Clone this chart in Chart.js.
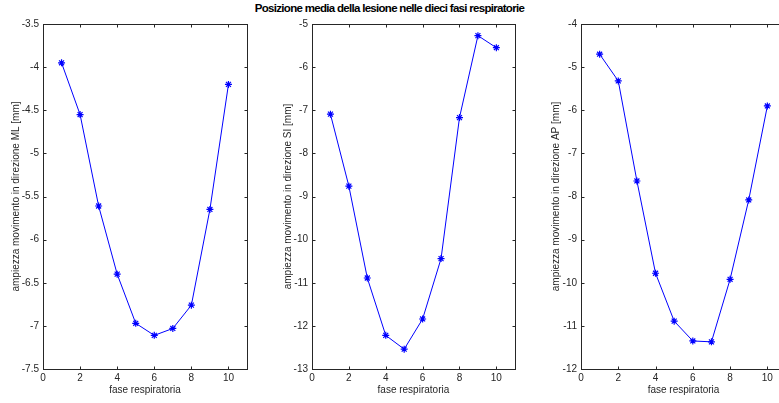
<!DOCTYPE html>
<html>
<head>
<meta charset="utf-8">
<script src="https://cdn.jsdelivr.net/npm/chart.js@4.4.1/dist/chart.umd.min.js"></script>
<style>
  html, body { margin: 0; padding: 0; background: #fff; }
  body { width: 779px; height: 403px; overflow: hidden; position: relative; font-family: "Liberation Sans", Arial, sans-serif; }
  .panel { position: absolute; top: 0; height: 403px; }
  #mainTitle {
    position: absolute; top: 2px; left: 0; width: 779px; text-align: center;
    font-weight: bold; font-size: 11.5px; letter-spacing: -0.7px; color: #000;
  }
</style>
</head>
<body>
<div id="mainTitle">Posizione media della lesione nelle dieci fasi respiratorie</div>
<div class="panel" style="left:0;width:260px"><canvas id="chartML"></canvas></div>
<div class="panel" style="left:260px;width:260px"><canvas id="chartSI"></canvas></div>
<div class="panel" style="left:520px;width:280px"><canvas id="chartAP"></canvas></div>
<script>
// fasi respiratorie 1..10
const phases = [1, 2, 3, 4, 5, 6, 7, 8, 9, 10];

// posizione media [mm] per direzione
const posML = [-3.95, -4.55, -5.61, -6.40, -6.97, -7.11, -7.03, -6.76, -5.65, -4.20];
const posSI = [-7.09, -8.76, -10.89, -12.22, -12.54, -11.84, -10.44, -7.17, -5.27, -5.55];
const posAP = [-4.70, -5.32, -7.64, -9.78, -10.89, -11.35, -11.37, -9.92, -8.08, -5.90];

const xTicks = [0, 2, 4, 6, 8, 10];

const axisColor = "#262626";
const textColor = "#262626";

// frame + inward ticks on all four sides (matlab style)
const boxTicks = {
  id: "boxTicks",
  afterDraw(chart) {
    const { ctx, chartArea: a, scales } = chart;
    const L = Math.round(a.left) + 0.5, R = Math.round(a.right) + 0.5;
    const T = Math.round(a.top) + 0.5, B = Math.round(a.bottom) + 0.5;
    const len = 3;
    ctx.save();
    ctx.strokeStyle = axisColor;
    ctx.lineWidth = 1;
    ctx.beginPath();
    scales.x.ticks.forEach(t => {
      const px = Math.round(scales.x.getPixelForValue(t.value)) + 0.5;
      ctx.moveTo(px, B); ctx.lineTo(px, B - len);
      ctx.moveTo(px, T); ctx.lineTo(px, T + len);
    });
    scales.y.ticks.forEach(t => {
      const py = Math.round(scales.y.getPixelForValue(t.value)) + 0.5;
      ctx.moveTo(L, py); ctx.lineTo(L + len, py);
      ctx.moveTo(R, py); ctx.lineTo(R - len, py);
    });
    ctx.stroke();
    ctx.strokeRect(L, T, R - L, B - T);
    ctx.restore();
  }
};

function makePanel(id, values, yMin, yMax, yStep, yLabel, yAxisWidth, rightPad, yTitlePad) {
  const ctx = document.getElementById(id).getContext("2d");
  return new Chart(ctx, {
    type: "line",
    data: {
      labels: phases,
      datasets: [{
        data: phases.map((p, i) => ({ x: p, y: values[i] })),
        borderColor: "#0000ff",
        backgroundColor: "#0000ff",
        borderWidth: 1,
        pointStyle: "star",
        pointRadius: 3.5,
        pointBorderWidth: 1.2,
        pointBorderColor: "#0000ff",
        tension: 0,
        fill: false
      }]
    },
    plugins: [boxTicks],
    options: {
      responsive: true,
      maintainAspectRatio: false,
      animation: false,
      events: [],
      layout: { padding: { left: 0, top: 24, right: rightPad, bottom: 0 } },
      plugins: {
        legend: { display: false },
        tooltip: { enabled: false }
      },
      scales: {
        x: {
          type: "linear",
          min: 0,
          max: 11,
          afterBuildTicks: scale => { scale.ticks = xTicks.map(v => ({ value: v })); },
          afterFit: scale => { scale.height = 34; },
          grid: { display: false, drawTicks: false },
          border: { display: false },
          ticks: {
            padding: 3,
            color: textColor,
            font: { family: "Liberation Sans", size: 10 }
          },
          title: {
            display: true,
            text: "fase respiratoria",
            color: textColor,
            font: { family: "Liberation Sans", size: 10 },
            padding: { top: 0, bottom: 7 }
          }
        },
        y: {
          type: "linear",
          min: yMin,
          max: yMax,
          afterFit: scale => { scale.width = yAxisWidth; },
          grid: { display: false, drawTicks: false },
          border: { display: false },
          ticks: {
            stepSize: yStep,
            padding: 4,
            color: textColor,
            font: { family: "Liberation Sans", size: 10 },
            callback: v => String(Number(v))
          },
          title: {
            display: true,
            text: yLabel,
            color: textColor,
            font: { family: "Liberation Sans", size: 10 },
            padding: { top: yTitlePad, bottom: 0 }
          }
        }
      }
    }
  });
}

makePanel("chartML", posML, -7.5, -3.5, 0.5, "ampiezza movimento in direzione ML [mm]", 43, 13, 10);
makePanel("chartSI", posSI, -13, -5, 1, "ampiezza movimento in direzione SI [mm]", 52, 4, 22);
makePanel("chartAP", posAP, -12, -4, 1, "ampiezza movimento in direzione AP [mm]", 61, 14, 30);
</script>
</body>
</html>
